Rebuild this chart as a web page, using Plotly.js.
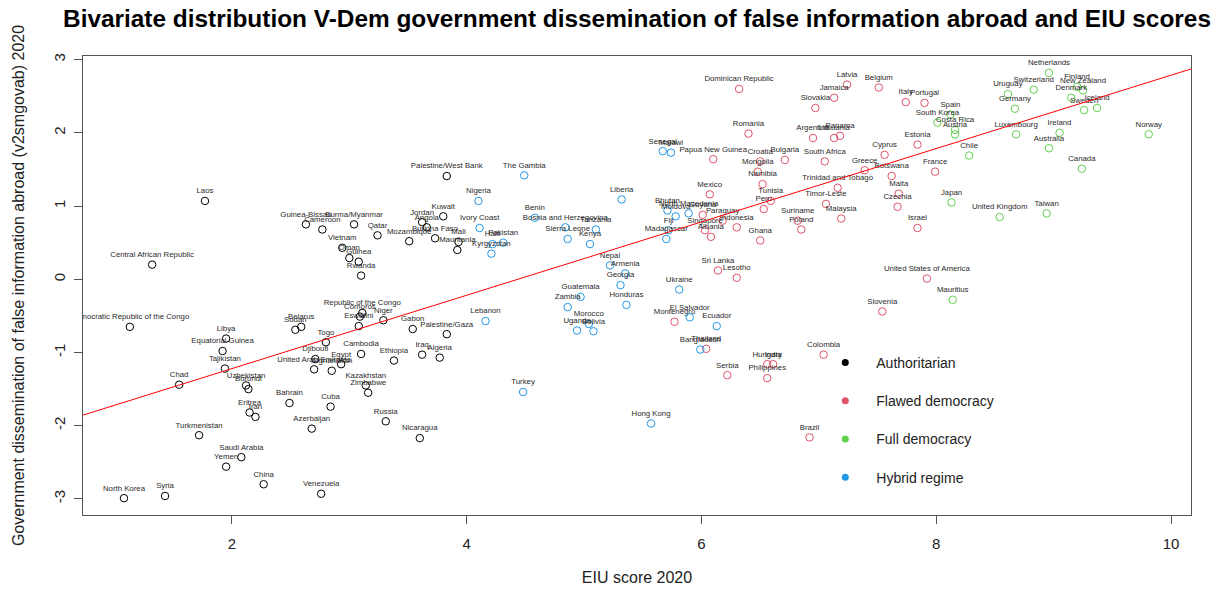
<!DOCTYPE html>
<html>
<head>
<meta charset="utf-8">
<script src="https://cdn.plot.ly/plotly-3.0.1.min.js"></script>
<style>html,body{margin:0;padding:0;background:#fff;}</style>
</head>
<body>
<div id="chart" style="width:1216px;height:590px;"></div>
<script>
// ---- Data ----
// Authoritarian
const authNames = ['Laos','Central African Republic','Guinea-Bissau','Cameroon','Burma/Myanmar','Qatar','Vietnam','Oman','Guinea','Rwanda','Palestine/West Bank','Kuwait','Jordan','Angola','Burkina Faso','Mozambique','Mali','Mauritania','Democratic Republic of the Congo','Libya','Equatorial Guinea','Tajikistan','Chad','Uzbekistan','Burundi','Eritrea','Iran','Turkmenistan','Saudi Arabia','Yemen','China','North Korea','Syria','Venezuela','Bahrain','Cuba','Azerbaijan','Sudan','Belarus','Togo','Djibouti','United Arab Emirates','Afghanistan','Egypt','Cambodia','Kazakhstan','Zimbabwe','Republic of the Congo','Comoros','Eswatini','Niger','Gabon','Palestine/Gaza','Ethiopia','Iraq','Algeria','Russia','Nicaragua'];
const authEIU = [1.77,1.32,2.63,2.77,3.04,3.24,2.94,3.00,3.08,3.10,3.83,3.80,3.62,3.66,3.73,3.51,3.93,3.92,1.13,1.95,1.92,1.94,1.55,2.12,2.14,2.15,2.20,1.72,2.08,1.95,2.27,1.08,1.43,2.76,2.49,2.84,2.68,2.54,2.59,2.80,2.71,2.70,2.85,2.93,3.10,3.14,3.16,3.11,3.09,3.08,3.29,3.54,3.83,3.38,3.62,3.77,3.31,3.60];
const authGov = [1.07,0.20,0.75,0.68,0.75,0.60,0.43,0.29,0.24,0.05,1.41,0.86,0.78,0.71,0.56,0.52,0.51,0.40,-0.65,-0.81,-0.98,-1.22,-1.44,-1.45,-1.50,-1.82,-1.88,-2.13,-2.43,-2.56,-2.80,-2.99,-2.96,-2.93,-1.69,-1.74,-2.04,-0.69,-0.65,-0.86,-1.09,-1.23,-1.25,-1.16,-1.02,-1.45,-1.55,-0.46,-0.51,-0.64,-0.56,-0.68,-0.75,-1.11,-1.03,-1.07,-1.94,-2.17];

// Flawed democracy
const flawNames = ['Dominican Republic','Latvia','Belgium','Jamaica','Slovakia','Italy','Portugal','Romania','Argentina','Lithuania','Panama','Estonia','Cyprus','Papua New Guinea','Croatia','Bulgaria','South Africa','Mongolia','Greece','Botswana','France','Namibia','Trinidad and Tobago','Malta','Mexico','Tunisia','Peru','Timor-Leste','Czechia','Malaysia','Suriname','Poland','Israel','Paraguay','Indonesia','Singapore','Albania','Ghana','Guyana','Sri Lanka','Lesotho','United States of America','Slovenia','Montenegro','Thailand','Serbia','Hungary','India','Philippines','Colombia','Brazil'];
const flawEIU = [6.32,7.24,7.51,7.13,6.97,7.74,7.90,6.40,6.95,7.13,7.18,7.84,7.56,6.10,6.50,6.71,7.05,6.48,7.39,7.62,7.99,6.52,7.16,7.68,6.07,6.59,6.53,7.06,7.67,7.19,6.82,6.85,7.84,6.18,6.30,6.03,6.08,6.50,6.01,6.14,6.30,7.92,7.54,5.77,6.04,6.22,6.56,6.61,6.56,7.04,6.92];
const flawGov = [2.60,2.66,2.62,2.48,2.34,2.42,2.41,1.99,1.93,1.93,1.96,1.84,1.70,1.64,1.61,1.63,1.61,1.47,1.49,1.41,1.47,1.30,1.25,1.17,1.16,1.07,0.96,1.03,0.99,0.83,0.80,0.68,0.70,0.80,0.71,0.67,0.58,0.53,0.88,0.12,0.02,0.01,-0.44,-0.58,-0.95,-1.31,-1.16,-1.16,-1.35,-1.03,-2.16];

// Full democracy
const fullNames = ['Netherlands','Switzerland','Uruguay','Finland','New Zealand','Denmark','Sweden','Iceland','Germany','Luxembourg','Ireland','Australia','Norway','Chile','Canada','Japan','United Kingdom','Taiwan','Mauritius','Spain','South Korea','Costa Rica','Austria'];
const fullEIU = [8.96,8.83,8.61,9.20,9.25,9.15,9.26,9.37,8.67,8.68,9.05,8.96,9.81,8.28,9.24,8.13,8.54,8.94,8.14,8.12,8.01,8.16,8.16];
const fullGov = [2.82,2.59,2.53,2.63,2.58,2.48,2.31,2.34,2.33,1.98,2.00,1.79,1.98,1.69,1.51,1.05,0.85,0.90,-0.28,2.25,2.14,2.04,1.98];

// Hybrid regime
const hybNames = ['The Gambia','Nigeria','Ivory Coast','Pakistan','Haiti','Kyrgyzstan','Benin','Bosnia and Herzegovina','Sierra Leone','Tanzania','Kenya','Liberia','Nepal','Armenia','Georgia','Senegal','Malawi','Bhutan','Moldova','North Macedonia','Fiji','Madagascar','Lebanon','Turkey','Hong Kong','Guatemala','Zambia','Honduras','Morocco','Uganda','Bolivia','Ukraine','El Salvador','Ecuador','Bangladesh'];
const hybEIU = [4.49,4.10,4.11,4.31,4.22,4.21,4.58,4.84,4.86,5.10,5.05,5.32,5.22,5.35,5.31,5.67,5.74,5.71,5.78,5.89,5.72,5.70,4.16,4.48,5.57,4.97,4.86,5.36,5.04,4.94,5.08,5.81,5.90,6.13,5.99];
const hybGov = [1.42,1.07,0.70,0.50,0.48,0.35,0.84,0.71,0.55,0.68,0.48,1.09,0.19,0.08,-0.08,1.75,1.73,0.94,0.86,0.90,0.67,0.55,-0.57,-1.54,-1.97,-0.24,-0.38,-0.35,-0.61,-0.70,-0.71,-0.14,-0.52,-0.64,-0.96];

const regimeLabels = ['Authoritarian','Flawed democracy','Full democracy','Hybrid regime'];
const regimeColors = ['#000000','#DF536B','#61D04F','#2297E6'];

// Fitted regression line
const fitIntercept = -2.222;
const fitSlope = 0.501;

// Axis settings
const xRange = [0.731, 10.17];
const yRange = [-3.22, 3.05];
const xTicks = [2,4,6,8,10];
const yTicks = [-3,-2,-1,0,1,2,3];

// ---- Build the figure ----
const FONT = 'Liberation Sans, Arial, Helvetica, sans-serif';
const groups = [
  [authNames, authEIU, authGov],
  [flawNames, flawEIU, flawGov],
  [fullNames, fullEIU, fullGov],
  [hybNames, hybEIU, hybGov]
];

const traces = [];
groups.forEach((g, i) => {
  traces.push({
    type: 'scatter',
    mode: 'markers+text',
    x: g[1], y: g[2], text: g[0],
    textposition: 'top center',
    textfont: {family: FONT, size: 7.8, color: '#2a2a2a'},
    marker: {symbol: 'circle-open', size: 7.5, color: regimeColors[i], line: {width: 1, color: regimeColors[i]}},
    cliponaxis: true,
    showlegend: false,
    hoverinfo: 'text'
  });
});

// regression line
traces.push({
  type: 'scatter', mode: 'lines',
  x: xRange.slice(),
  y: xRange.map(v => fitIntercept + fitSlope * v),
  line: {color: '#ff0000', width: 1},
  showlegend: false, hoverinfo: 'skip'
});

// legend entries (filled dots)
regimeLabels.forEach((lab, i) => {
  traces.push({
    type: 'scatter', mode: 'markers',
    x: [null], y: [null],
    name: lab, legendgroup: 'g' + i,
    marker: {symbol: 'circle', size: 7, color: regimeColors[i]},
    showlegend: true
  });
});

const axisCommon = {
  showline: true, mirror: true, linecolor: '#555', linewidth: 1,
  ticks: 'outside', ticklen: 8, tickcolor: '#555', tickwidth: 1,
  showgrid: false, zeroline: false,
  tickfont: {family: FONT, size: 15, color: '#222'}
};

const layout = {
  width: 1216, height: 590,
  margin: {l: 83, r: 25, t: 56, b: 75},
  paper_bgcolor: '#ffffff', plot_bgcolor: '#ffffff',
  font: {family: FONT, color: '#222'},
  title: {
    text: 'Bivariate distribution V-Dem government dissemination of false information abroad and EIU scores',
    font: {family: FONT, size: 24.4, color: '#000', weight: 'bold'},
    x: 0.5, xref: 'paper', xanchor: 'center',
    y: 1 - 18.5/590, yref: 'container', yanchor: 'middle'
  },
  xaxis: Object.assign({}, axisCommon, {
    range: xRange, tickvals: xTicks, ticktext: xTicks.map(String),
    ticklabelstandoff: 7,
    title: {text: 'EIU score 2020', font: {family: FONT, size: 16, color: '#222'}, standoff: 20}
  }),
  yaxis: Object.assign({}, axisCommon, {
    range: yRange, tickvals: yTicks, ticktext: yTicks.map(String),
    tickangle: -90, ticklabelstandoff: 3,
    title: {text: 'Government dissemination of false information abroad (v2smgovab) 2020', font: {family: FONT, size: 16, color: '#222'}, standoff: 22}
  }),
  showlegend: true,
  legend: {
    x: 0.66, xanchor: 'left', y: 0.366, yanchor: 'top',
    bgcolor: 'rgba(0,0,0,0)', borderwidth: 0,
    font: {family: FONT, size: 14, color: '#222'},
    itemwidth: 52,
    traceorder: 'grouped', tracegroupgap: 17
  }
};

Plotly.newPlot('chart', traces, layout, {displayModeBar: false, staticPlot: true});
</script>
</body>
</html>
